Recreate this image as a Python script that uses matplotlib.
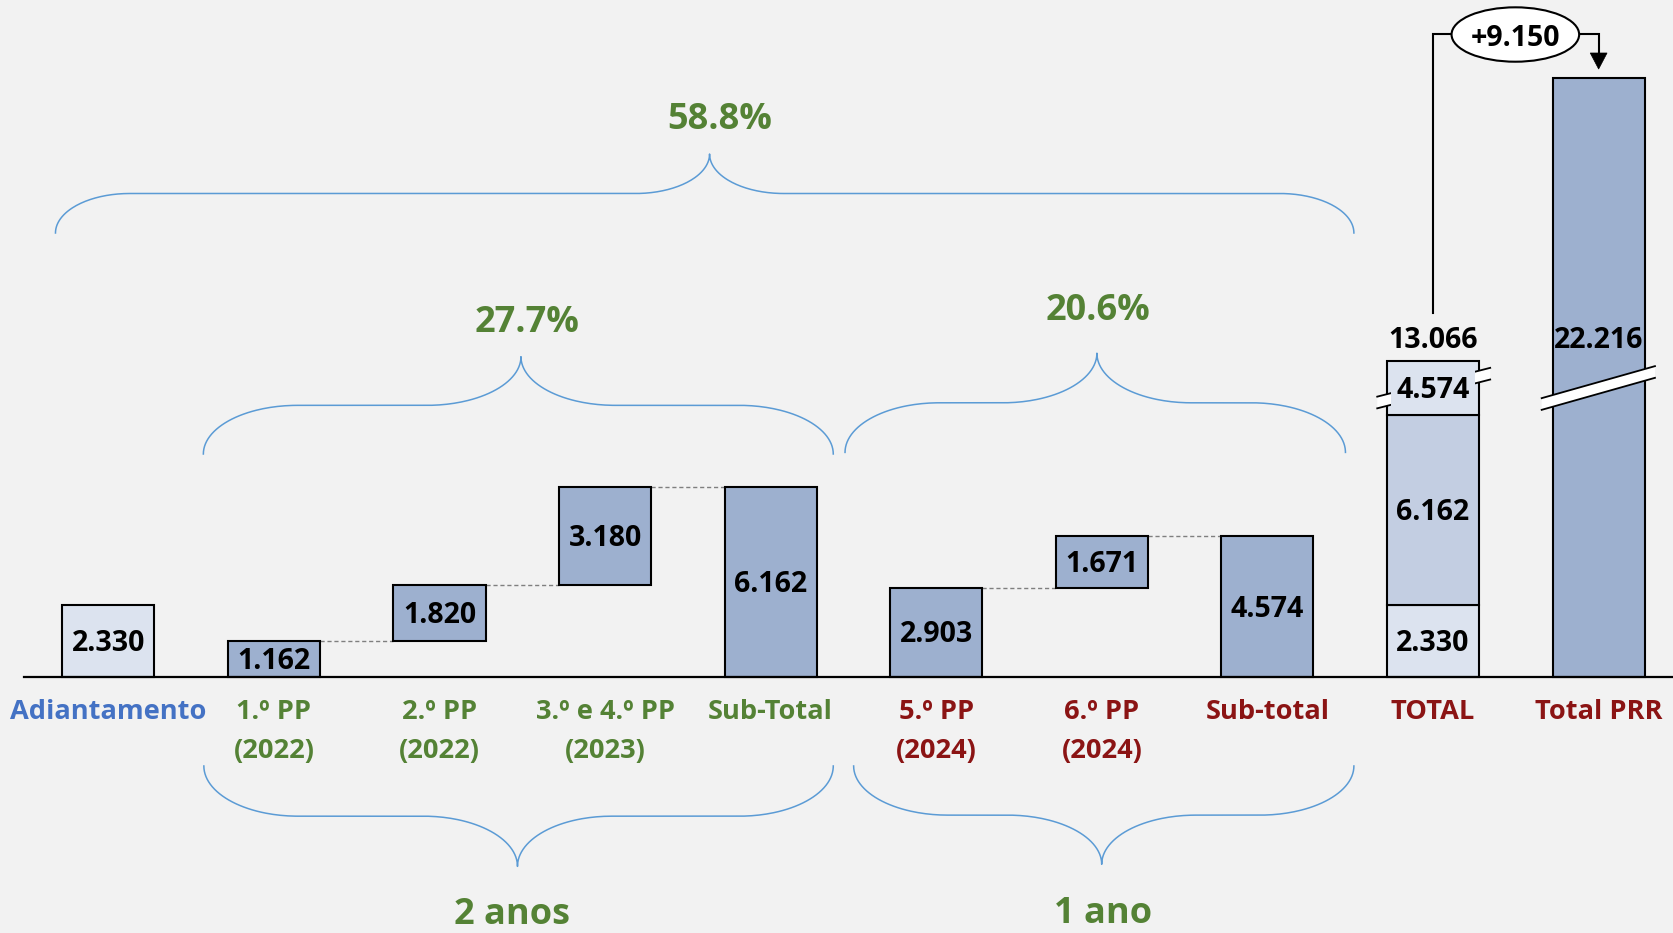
import numpy as np
import matplotlib
matplotlib.use("Agg")
import matplotlib.pyplot as plt
from matplotlib.patches import Rectangle, Ellipse, Polygon

# ---------------- data ----------------
categories = ["Adiantamento", "1.º PP\n(2022)", "2.º PP\n(2022)", "3.º e 4.º PP\n(2023)",
              "Sub-Total", "5.º PP\n(2024)", "6.º PP\n(2024)", "Sub-total", "TOTAL", "Total PRR"]
label_colors = ["#4472C4", "#548235", "#548235", "#548235", "#548235",
                "#8B1414", "#8B1414", "#8B1414", "#8B1414", "#8B1414"]
adiantamento = 2330
pp_2anos = [1162, 1820, 3180]
pp_1ano = [2903, 1671]
total_prr = 22216
period_labels = ["2 anos", "1 ano"]

sub1 = sum(pp_2anos)
sub2 = sum(pp_1ano)
total = adiantamento + sub1 + sub2
increase = total_prr - total
pct_sub1 = 100 * sub1 / total_prr
pct_sub2 = 100 * sub2 / total_prr
pct_total = 100 * total / total_prr

# ---------------- style ----------------
BG = "#F2F2F2"
LIGHT = "#DCE3EF"
MID = "#C3CEE2"
DARK = "#9DB0CF"
GREEN = "#548235"
BRACE = "#5B9BD5"
FONT = "Open Sans"
VAL_FS = 20.5
CAT_FS = 19.6
BIG_FS = 26
W = 0.556

# axis break for the two tallest bars
BREAK_AT = 9000
GAP = 2830


def shown(v):
    return v - GAP if v > BREAK_AT else v


def fmt(v):
    return f"{v / 1000:.3f}"


plt.rcParams["font.family"] = [FONT, "DejaVu Sans"]
fig = plt.figure(figsize=(16.73, 9.33), dpi=100, facecolor=BG)
ax = fig.add_axes([0, 0, 1, 1])
ax.set_facecolor(BG)
ax.set_xlim(-0.654, 9.449)
ax.set_ylim(-8275, 21918)
ax.axis("off")

CAP = 324  # half cap height of value labels in data units


def bar(x, bottom, height, color, label=None, z=3):
    ax.bar(x, height, W, bottom=bottom, color=color, edgecolor="black",
           linewidth=1.5, zorder=z)
    if label is not None:
        ax.text(x, bottom + height / 2 - CAP, label, ha="center", va="baseline",
                fontsize=VAL_FS, fontweight="bold", color="black", zorder=z + 3)


def connector(x_from, x_to, y):
    ax.plot([x_from + W / 2, x_to - W / 2], [y, y], color="#7F7F7F", lw=1.0,
            ls=(0, (3, 2)), zorder=2)


# Adiantamento
bar(0, 0, adiantamento, LIGHT, fmt(adiantamento))

# first waterfall group
cum = 0
for i, v in enumerate(pp_2anos):
    x = 1 + i
    bar(x, cum, v, DARK, fmt(v))
    cum += v
    connector(x, x + 1, cum)
bar(4, 0, sub1, DARK, fmt(sub1))

# second waterfall group
cum = 0
for i, v in enumerate(pp_1ano):
    x = 5 + i
    bar(x, cum, v, DARK, fmt(v))
    cum += v
    connector(x, x + 1, cum)
bar(7, 0, sub2, DARK, fmt(sub2))

# TOTAL stacked (broken)
bar(8, 0, adiantamento, LIGHT, fmt(adiantamento))
bar(8, adiantamento, sub1, MID, fmt(sub1))
top_bottom = adiantamento + sub1
bar(8, top_bottom, shown(total) - top_bottom, LIGHT, None)

# Total PRR (broken)
bar(9, 0, shown(total_prr), DARK, None)


# break bands
def break_band(xl, xr, yl, yr, half=189):
    poly = Polygon([(xl, yl - half), (xr, yr - half), (xr, yr + half), (xl, yl + half)],
                   closed=True, facecolor="white", edgecolor="none", zorder=5)
    ax.add_patch(poly)
    ax.plot([xl, xr], [yl - half, yr - half], color="black", lw=1.3, zorder=6)
    ax.plot([xl, xr], [yl + half, yr + half], color="black", lw=1.3, zorder=6)


break_band(7.663, 8.345, 8893, 9825)
break_band(8.656, 9.340, 8844, 9880)

# cover behind the 4.574 label
ax.add_patch(Rectangle((8 - 0.251, 8747), 0.502, 1230, facecolor=LIGHT,
                       edgecolor="none", zorder=7))
seg_mid = (top_bottom + shown(total)) / 2
ax.text(8, seg_mid - CAP, fmt(sub2), ha="center", va="baseline", fontsize=VAL_FS,
        fontweight="bold", color="black", zorder=8)

# totals labels
ax.text(8, shown(total) + 411, fmt(total), ha="center", va="baseline",
        fontsize=VAL_FS, fontweight="bold", color="black", zorder=8)
ax.text(9, shown(total) + 411, fmt(total_prr), ha="center", va="baseline",
        fontsize=VAL_FS, fontweight="bold", color="black", zorder=8)

# baseline
ax.plot([-0.512, 9.449], [0, 0], color="black", lw=1.6, zorder=4)

# category labels
for i, (cat, col) in enumerate(zip(categories, label_colors)):
    for j, line in enumerate(cat.split("\n")):
        ax.text(i, -1346 - j * 1265, line, ha="center", va="baseline",
                fontsize=CAT_FS, fontweight="bold", color=col, zorder=8)


# braces
def brace(x0, x1, xm, y_end, y_tip, rx):
    yh = (y_end + y_tip) / 2
    t = np.linspace(0, np.pi / 2, 60)
    xa = x0 + rx * (1 - np.cos(t)); ya = y_end + (yh - y_end) * np.sin(t)
    xb = xm - rx + rx * np.sin(t); yb = yh + (y_tip - yh) * (1 - np.cos(t))
    xc = xm + rx * (1 - np.cos(t)); yc = y_tip + (yh - y_tip) * np.sin(t)
    xd = x1 - rx + rx * np.sin(t); yd = yh + (y_end - yh) * (1 - np.cos(t))
    ax.plot(np.concatenate([xa, xb, xc, xd]), np.concatenate([ya, yb, yc, yd]),
            color=BRACE, lw=1.1, zorder=2)


brace(-0.319, 7.522, 3.631, 14378, 16934, 0.447)
brace(0.574, 4.378, 2.492, 7226, 10375, 0.568)
brace(4.449, 7.471, 5.970, 7278, 10488, 0.568)
brace(0.577, 4.378, 2.471, -2870, -6119, 0.568)
brace(4.501, 7.522, 5.999, -2870, -6051, 0.568)

BIG_CAP = 431
ax.text(3.694, 18164 - BIG_CAP, f"{pct_total:.1f}%", ha="center", va="baseline",
        fontsize=BIG_FS, fontweight="bold", color=GREEN)
ax.text(2.531, 11617 - BIG_CAP, f"{pct_sub1:.1f}%", ha="center", va="baseline",
        fontsize=BIG_FS, fontweight="bold", color=GREEN)
ax.text(5.976, 11983 - BIG_CAP, f"{pct_sub2:.1f}%", ha="center", va="baseline",
        fontsize=BIG_FS, fontweight="bold", color=GREEN)
ax.text(2.438, -7980, period_labels[0], ha="center", va="baseline",
        fontsize=BIG_FS, fontweight="bold", color=GREEN)
ax.text(6.007, -7950, period_labels[1], ha="center", va="baseline",
        fontsize=BIG_FS, fontweight="bold", color=GREEN)

# increase arrow
y_line = 20808
ax.plot([8, 8, 8.112], [11790, y_line, y_line], color="black", lw=1.5, zorder=6,
        solid_joinstyle="miter")
ax.plot([8.882, 9.0, 9.0], [y_line, y_line, 20203], color="black", lw=1.5, zorder=6,
        solid_joinstyle="miter")
ax.add_patch(Polygon([(9 - 0.0507, 20203), (9 + 0.0507, 20203), (9, 19685)],
                     closed=True, facecolor="black", edgecolor="black", lw=0.5, zorder=6))
ax.add_patch(Ellipse((8.497, 20801), 0.7705, 1760, facecolor="white",
                     edgecolor="black", lw=1.5, zorder=7))
ax.text(8.497, 20439, "+" + fmt(increase), ha="center", va="baseline",
        fontsize=VAL_FS, fontweight="bold", color="black", zorder=8)

fig.savefig("out.png", dpi=100, facecolor=BG)
